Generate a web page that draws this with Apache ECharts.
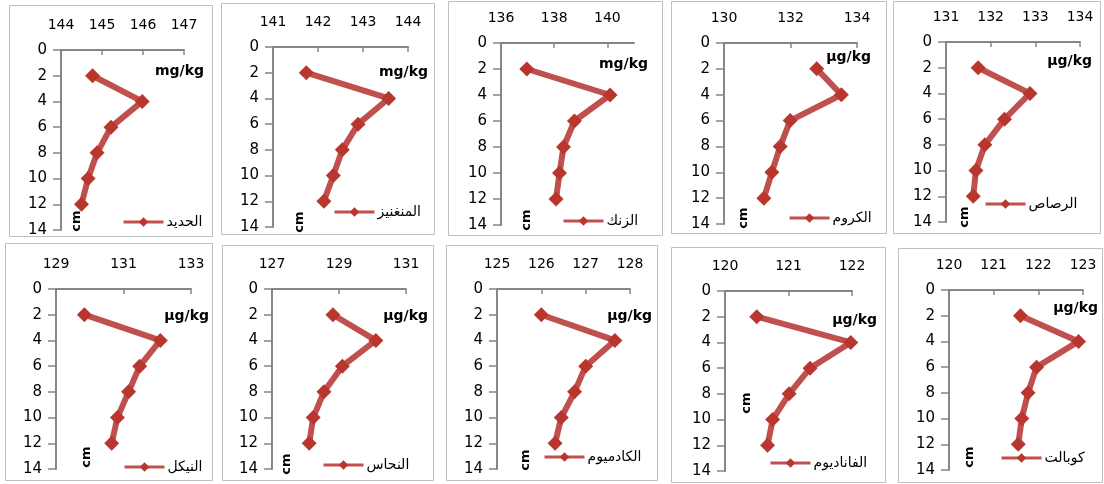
<!DOCTYPE html>
<html>
<head>
<meta charset="utf-8">
<script src="https://cdn.jsdelivr.net/npm/echarts@6/dist/echarts.min.js"></script>
<style>
  html, body { margin: 0; padding: 0; background: #fff; }
  #main { width: 1104px; height: 484px; }
</style>
</head>
<body>
<div id="main"></div>
<script>
// depth of each sample (cm)
const depths = [2, 4, 6, 8, 10, 12];

// element names (legend)
const names = ['الحديد', 'المنغنيز', 'الزنك', 'الكروم', 'الرصاص',
               'النيكل', 'النحاس', 'الكادميوم', 'الفاناديوم', 'كوبالت'];
const units = ['mg/kg', 'mg/kg', 'mg/kg', 'µg/kg', 'µg/kg',
               'µg/kg', 'µg/kg', 'µg/kg', 'µg/kg', 'µg/kg'];

// concentrations, top to bottom
const iron      = [144.77, 145.98, 145.22, 144.88, 144.66, 144.50];
const manganese = [141.74, 143.57, 142.89, 142.54, 142.34, 142.13];
const zinc      = [136.97, 140.10, 138.76, 138.35, 138.20, 138.07];
const chromium  = [132.79, 133.53, 131.99, 131.69, 131.44, 131.20];
const lead      = [131.72, 132.88, 132.31, 131.87, 131.67, 131.61];
const nickel    = [129.84, 132.09, 131.48, 131.15, 130.82, 130.65];
const copper    = [128.82, 130.10, 129.10, 128.55, 128.23, 128.11];
const cadmium   = [126.00, 127.66, 127.00, 126.75, 126.45, 126.31];
const vanadium  = [120.50, 121.98, 121.34, 121.01, 120.75, 120.67];
const cobalt    = [121.60, 122.90, 121.96, 121.77, 121.63, 121.55];
const allValues = [iron, manganese, zinc, chromium, lead, nickel, copper, cadmium, vanadium, cobalt];

// x axis scale of each panel
const xMin  = [144, 141, 136, 130, 131, 129, 127, 125, 120, 120];
const xMax  = [147, 144, 141, 134, 134, 133, 131, 128, 122, 123];
const xStep = [1, 1, 2, 2, 1, 2, 2, 1, 1, 1];

// layout (px): panel frames, plot areas, label spots
const frames = [
  [9, 5, 203, 231], [221, 3, 213, 231], [448, 1, 214, 234], [671, 1, 215, 232], [893, 1, 207, 232],
  [5, 243, 207, 237], [222, 245, 211, 235], [446, 245, 211, 235], [671, 247, 214, 235], [898, 248, 204, 234]
];
const plots = [
  [61, 50, 123, 180], [273, 47, 135, 180], [501, 43, 133, 182], [724, 43, 133, 181], [946, 42, 134, 180],
  [56, 289, 135, 180], [272, 289, 134, 180], [497, 289, 133, 180], [725, 291, 127, 180], [949, 290, 134, 180]
];
const unitPos = [
  [204, 71], [428, 72], [648, 64], [871, 57], [1092, 61],
  [209, 316], [428, 316], [652, 316], [877, 320], [1098, 308]
];
const cmPos = [
  [77, 221], [300, 222], [527, 220], [744, 218], [965, 217],
  [87, 457], [287, 464], [526, 460], [747, 403], [970, 457]
];
const legendPos = [
  [122, 222], [333, 212], [562, 221], [788, 218], [984, 204],
  [123, 467], [322, 465], [543, 457], [769, 463], [1000, 458]
];

const lineColor = '#C0504D';
const markColor = '#B9362F';
const axisColor = '#868686';
const font = 'DejaVu Sans';

let chart = echarts.init(document.getElementById('main'));

let grids = [], xAxes = [], yAxes = [], series = [], legends = [], graphics = [];

for (let i = 0; i < names.length; i++) {
  const p = plots[i];
  grids.push({ left: p[0], top: p[1], width: p[2], height: p[3], containLabel: false });

  // hide the end label when max is not on a step (zinc panel)
  const maxOnStep = (xMax[i] - xMin[i]) % xStep[i] === 0;

  xAxes.push({
    gridIndex: i, type: 'value', position: 'top',
    min: xMin[i], max: xMax[i], interval: xStep[i],
    axisLine: { show: true, onZero: false, lineStyle: { color: axisColor, width: 2 } },
    axisTick: { show: true, inside: true, length: 5, lineStyle: { color: axisColor, width: 1.5 } },
    axisLabel: { margin: 18, fontFamily: font, fontSize: 14, color: '#000', showMaxLabel: maxOnStep },
    splitLine: { show: false }
  });

  yAxes.push({
    gridIndex: i, type: 'value', inverse: true,
    min: 0, max: 14, interval: 2,
    axisLine: { show: true, onZero: false, lineStyle: { color: axisColor, width: 2 } },
    axisTick: { show: true, length: 8, lineStyle: { color: axisColor, width: 1.5 } },
    axisLabel: { margin: 14, fontFamily: font, fontSize: 15, color: '#000' },
    splitLine: { show: false }
  });

  series.push({
    name: names[i], type: 'line',
    xAxisIndex: i, yAxisIndex: i,
    data: allValues[i].map((v, k) => [v, depths[k]]),
    symbol: 'diamond', symbolSize: 15,
    lineStyle: { color: lineColor, width: 6 },
    itemStyle: { color: markColor },
    emphasis: { disabled: true },
    animation: false
  });

  legends.push({
    data: [names[i]],
    left: legendPos[i][0], top: legendPos[i][1] - 7,
    itemWidth: 40, itemHeight: 12, itemGap: 2,
    textStyle: { fontFamily: font, fontSize: 14, color: '#000', padding: [0, 0, 0, -2] },
    itemStyle: { color: markColor },
    lineStyle: { color: lineColor, width: 3 },
    padding: 0, selectedMode: false
  });

  const f = frames[i];
  graphics.push({
    type: 'rect', shape: { x: f[0] + 0.5, y: f[1] + 0.5, width: f[2], height: f[3] },
    style: { fill: 'none', stroke: '#BFBFBF', lineWidth: 1 }, z: -1
  });
  graphics.push({
    type: 'text', x: unitPos[i][0], y: unitPos[i][1],
    style: { text: units[i], fontFamily: font, fontSize: 14, fontWeight: 'bold', fill: '#000',
             textAlign: 'right', textVerticalAlign: 'middle' }
  });
  graphics.push({
    type: 'text', x: cmPos[i][0], y: cmPos[i][1], rotation: Math.PI / 2,
    style: { text: 'cm', fontFamily: font, fontSize: 13, fontWeight: 'bold', fill: '#000',
             textAlign: 'center', textVerticalAlign: 'middle' }
  });
}

chart.setOption({
  backgroundColor: '#fff',
  animation: false,
  grid: grids,
  xAxis: xAxes,
  yAxis: yAxes,
  legend: legends,
  series: series,
  graphic: graphics
});
</script>
</body>
</html>
